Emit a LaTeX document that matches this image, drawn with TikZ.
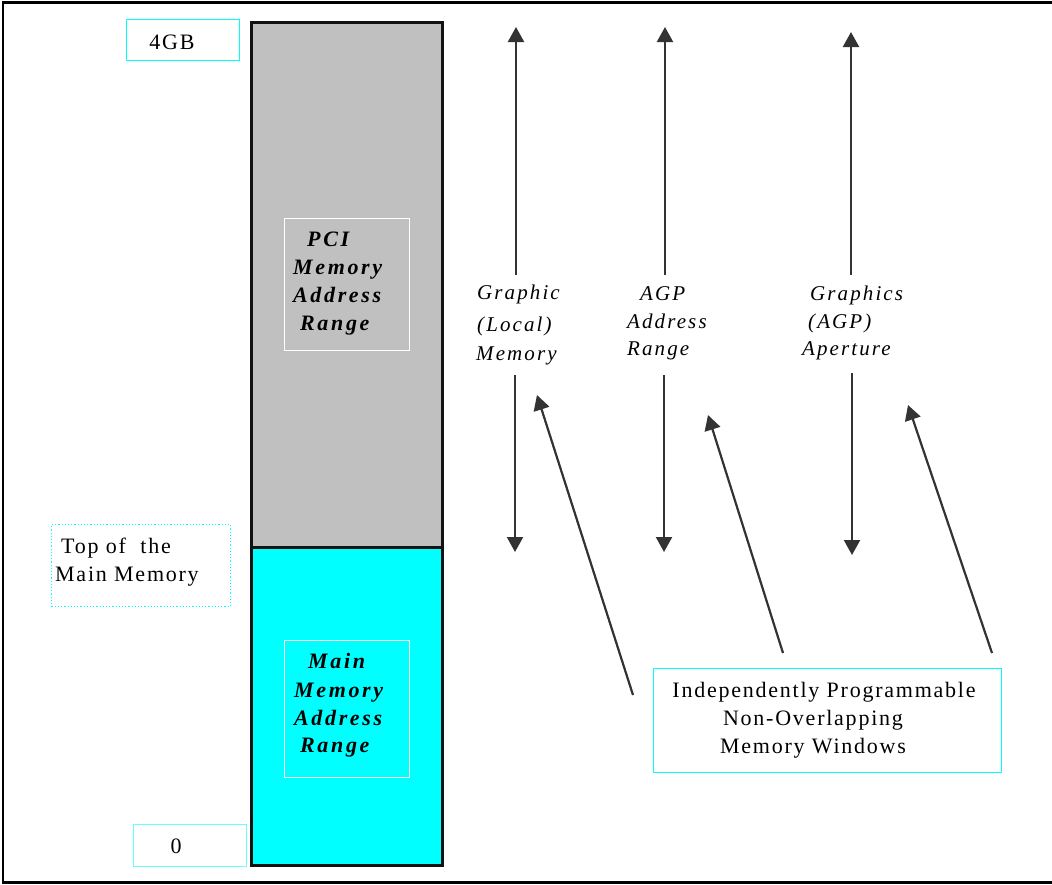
\documentclass[tikz,border=0pt]{standalone}
\usepackage{fontspec}
\setmainfont{Liberation Serif}
\newfontfamily\lsrm[LetterSpace=8]{Liberation Serif}
\newfontfamily\lsit[LetterSpace=10]{Liberation Serif}
\newfontfamily\lsbi[LetterSpace=12]{Liberation Serif}
\usetikzlibrary{arrows.meta}
\definecolor{gfill}{HTML}{C0C0C0}
\definecolor{cy}{HTML}{00FFFF}
\definecolor{cyl}{HTML}{66FFFF}
\definecolor{arr}{HTML}{333333}
\tikzset{
  rmtext/.style={inner sep=0pt, font=\lsrm\fontsize{22}{28}\selectfont},
  ittext/.style={inner sep=0pt, font=\lsit\itshape\fontsize{21}{28}\selectfont},
  bitext/.style={inner sep=0pt, font=\lsbi\bfseries\itshape\fontsize{22}{28}\selectfont},
  cybox/.style={draw=cy, line width=1.2pt},
  wbox/.style={draw=white, line width=1.2pt},
  arrowline/.style={draw=arr, line width=2.2pt, -{Triangle[width=16pt,length=15pt]}},
}
\begin{document}
\begin{tikzpicture}[x=1pt,y=-1pt]
\useasboundingbox (0,0) rectangle (1052,884);
% frame
\draw[line width=2.8pt] (3,2.8) rectangle (1053,882.5);
% memory column
\path[fill=gfill] (251,22) rectangle (442,547);
\path[fill=cy] (251,547) rectangle (442,865);
\draw[line width=3pt, draw=black!93] (251,22) rectangle (442,865);
\draw[line width=3pt, draw=black!93] (251,547) -- (442,547);
% inner boxes
\node[wbox, minimum width=125pt, minimum height=132pt, anchor=north west, inner sep=0pt] (pcibox) at (284,218) {};
\node[wbox, minimum width=125pt, minimum height=137pt, anchor=north west, inner sep=0pt] (mainbox) at (284,640) {};
\node[bitext, anchor=base west] (p1) at (307,246) {PCI};
\node[bitext, anchor=base west] (p2) at (293,274) {Memory};
\node[bitext, anchor=base west] (p3) at (293,302) {Address};
\node[bitext, anchor=base west] (p4) at (300,330) {Range};
\node[bitext, anchor=base west] (m1) at (308,668) {Main};
\node[bitext, anchor=base west] (m2) at (294,697) {Memory};
\node[bitext, anchor=base west] (m3) at (294,725) {Address};
\node[bitext, anchor=base west] (m4) at (300,752) {Range};
% left labels
\node[cybox, minimum width=113pt, minimum height=41pt, anchor=north west, inner sep=0pt] (gbbox) at (126,19) {};
\node[rmtext, anchor=base] (gb) at (172,49) {4GB};
\node[draw=cy, dotted, line width=1.2pt, minimum width=179pt, minimum height=82pt, anchor=north west, inner sep=0pt] (topbox) at (51,524) {};
\node[rmtext, anchor=base west] (t1) at (61,553) {Top of\ \ the};
\node[rmtext, anchor=base west] (t2) at (55,581) {Main Memory};
\node[draw=cyl, line width=1.2pt, minimum width=113pt, minimum height=42pt, anchor=north west, inner sep=0pt] (zbox) at (133,824) {};
\node[rmtext, anchor=base] (z) at (176,853) {0};
% arrow column labels
\node[ittext, anchor=base west] (a1) at (477,299) {Graphic};
\node[ittext, anchor=base west] (a2) at (477,331) {(Local)};
\node[ittext, anchor=base west] (a3) at (476,360) {Memory};
\node[ittext, anchor=base west] (b1) at (640,300) {AGP};
\node[ittext, anchor=base west] (b2) at (627,328) {Address};
\node[ittext, anchor=base west] (b3) at (627,355) {Range};
\node[ittext, anchor=base west] (c1) at (810,300) {Graphics};
\node[ittext, anchor=base west] (c2) at (808,328) {(AGP)};
\node[ittext, anchor=base west] (c3) at (802,355) {Aperture};
% bottom box
\node[cybox, minimum width=348pt, minimum height=104pt, anchor=north west, inner sep=0pt] (winbox) at (653,668) {};
\node[rmtext, anchor=base] (w1) at (824,697) {Independently Programmable};
\node[rmtext, anchor=base] (w2) at (813,725) {Non-Overlapping};
\node[rmtext, anchor=base] (w3) at (813,753) {Memory Windows};
% arrow coordinates
\coordinate (u1s) at (516,275); \coordinate (u1e) at (516,27);
\coordinate (u2s) at (665,275); \coordinate (u2e) at (665,27);
\coordinate (u3s) at (851,275); \coordinate (u3e) at (851,32);
\coordinate (d1s) at (515,375); \coordinate (d1e) at (515,552);
\coordinate (d2s) at (664,375); \coordinate (d2e) at (664,552);
\coordinate (d3s) at (852,373); \coordinate (d3e) at (852,555);
\coordinate (s1s) at (633,695); \coordinate (s1e) at (537,395);
\coordinate (s2s) at (783,653); \coordinate (s2e) at (708,415);
\coordinate (s3s) at (992,653); \coordinate (s3e) at (908,405);
\draw[arrowline] (u1s) -- (u1e);
\draw[arrowline] (u2s) -- (u2e);
\draw[arrowline] (u3s) -- (u3e);
\draw[arrowline] (d1s) -- (d1e);
\draw[arrowline] (d2s) -- (d2e);
\draw[arrowline] (d3s) -- (d3e);
\draw[arrowline] (s1s) -- (s1e);
\draw[arrowline] (s2s) -- (s2e);
\draw[arrowline] (s3s) -- (s3e);
\end{tikzpicture}
\end{document}
